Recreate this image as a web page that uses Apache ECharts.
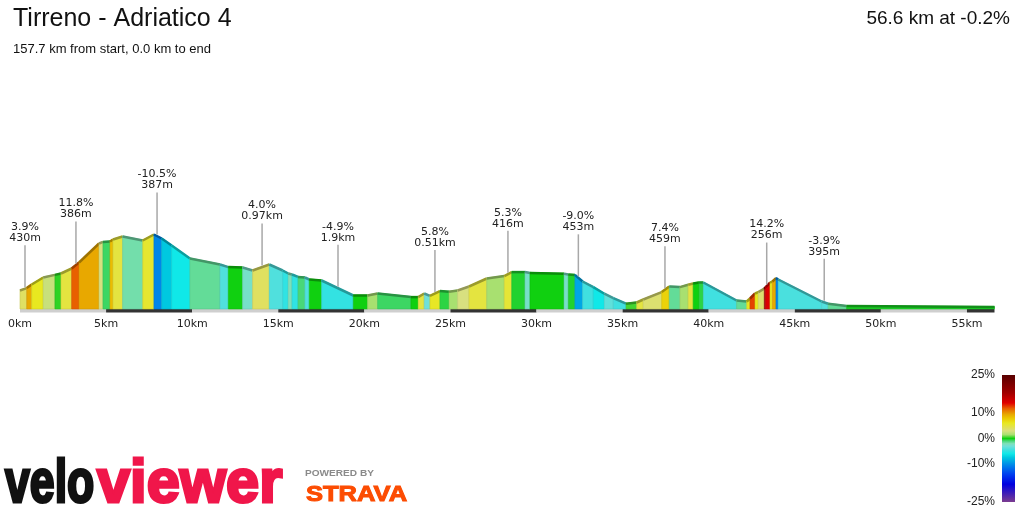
<!DOCTYPE html>
<html>
<head>
<meta charset="utf-8">
<script src="https://cdn.jsdelivr.net/npm/echarts@6/dist/echarts.min.js"></script>
<style>
html, body { margin: 0; padding: 0; background: #fff; }
#chart { width: 1024px; height: 512px; }
</style>
</head>
<body>
<div id="chart"></div>
<script>
// profile points: distance (km) and elevation (m)
const distKm = [0, 0.39, 0.68, 1.35, 2.03, 2.38, 3.00, 3.43, 4.59, 4.82, 5.23, 5.40, 5.96, 7.13, 7.78, 8.23, 8.81, 9.87, 11.62, 12.10,
  12.93, 13.51, 14.48, 15.26, 15.58, 15.80, 16.15, 16.55, 16.80, 17.52, 19.36, 20.19, 20.77, 22.71, 23.13, 23.48, 23.81, 24.39, 24.92, 25.42,
  26.08, 27.11, 28.13, 28.56, 29.33, 29.62, 31.60, 31.85, 32.23, 32.68, 33.30, 33.94, 34.46, 35.20, 35.82, 36.20, 37.27, 37.71, 38.33, 38.81,
  39.10, 39.44, 39.69, 41.62, 42.21, 42.40, 42.69, 42.88, 43.23, 43.31, 43.56, 43.70, 43.91, 44.04, 46.56, 46.94, 48.01, 56.6];
const elevM = [95, 107, 125, 160, 173, 180, 205, 235, 330, 338, 340, 350, 365, 345, 375, 355, 320, 255, 225, 212,
  210, 195, 225, 195, 180, 175, 163, 160, 150, 145, 70, 70, 80, 62, 62, 80, 68, 92, 89, 95,
  115, 155, 167, 187, 187, 183, 179, 175, 173, 140, 112, 79, 57, 29, 35, 50, 87, 115, 112, 124,
  130, 135, 135, 45, 40, 55, 80, 87, 104, 112, 134, 140, 157, 150, 40, 29, 17, 12];
// gradient (%) of each segment between two points
const segGrade = [3.9, 9.5, 6, 2.5, 0.3, 5, 11.8, 9.5, 3, -0.8, 8.5, 5, -1.8, 5.5, -10.5, -7.5, -6, -1.5, -4, 0,
  -2.5, 4, -4, -5, -2, -5, -1, -4, 0, -4.9, 0, 1.5, -0.8, 0, 5, -3, 5.8, -0.5, 1.5, 3,
  5, 1.5, 5.3, -0.3, -2.5, 0, -2.5, -0.3, -9, -4.5, -6, -3.5, -4.5, 0.5, 5, 3.5, 7.4, -1.5, 1.5, 5,
  0, -0.5, -4.5, -1.5, 6, 12.5, 6, 3.5, 18, 14.2, 6, 9.5, -10.5, -4.2, -3.9, -1.5, -0.2];

// labelled climbs and descents
const markKm = [0.29, 3.25, 7.96, 14.06, 18.47, 24.10, 28.34, 32.43, 37.46, 43.37, 46.71];
const markGrade = ['3.9%', '11.8%', '-10.5%', '4.0%', '-4.9%', '5.8%', '5.3%', '-9.0%', '7.4%', '14.2%', '-3.9%'];
const markLen = ['430m', '386m', '387m', '0.97km', '1.9km', '0.51km', '416m', '453m', '459m', '256m', '395m'];

// gradient colour scale
const scaleTicks = [25, 10, 0, -10, -25];
const stopG = [-25, -18, -14, -10, -7.5, -6, -4.5, -3, -2, -1, 0, 1.5, 3, 4, 6, 8, 9.5, 11.8, 14, 18, 25];
const stopC = ['#7c3c90', '#0000e0', '#0040f0', '#0090e8', '#00c8e0', '#10e8e8', '#40e0e0', '#70e0d8', '#7ee0b8', '#48d878', '#10d010',
  '#a8e070', '#d8e080', '#e0e060', '#e8e820', '#ecc800', '#e8a800', '#e86000', '#e00000', '#a00000', '#580000'];

const FONT = 'Liberation Sans, Arial, sans-serif';

function hexRgb(h) {
  const n = parseInt(h.slice(1), 16);
  return [n >> 16, (n >> 8) & 255, n & 255];
}
function rgbStr(c) { return 'rgb(' + c.map(v => Math.round(v)).join(',') + ')'; }

function gradeColor(g) {
  if (g <= stopG[0]) return stopC[0];
  for (let i = 1; i < stopG.length; i++) {
    if (g <= stopG[i]) {
      const t = (g - stopG[i - 1]) / (stopG[i] - stopG[i - 1]);
      const a = hexRgb(stopC[i - 1]), b = hexRgb(stopC[i]);
      return rgbStr(a.map((v, k) => v + (b[k] - v) * t));
    }
  }
  return stopC[stopC.length - 1];
}
function shade(col, f) {
  const m = col.match(/\d+/g).map(Number);
  return rgbStr(m.map(v => v * f));
}

function elevAt(km) {
  for (let i = 1; i < distKm.length; i++) {
    if (km <= distKm[i]) {
      const t = (km - distKm[i - 1]) / (distKm[i] - distKm[i - 1]);
      return elevM[i - 1] + (elevM[i] - elevM[i - 1]) * t;
    }
  }
  return elevM[elevM.length - 1];
}

const segData = segGrade.map((g, i) => [distKm[i], distKm[i + 1], elevM[i], elevM[i + 1], g]);
const markData = markKm.map((k, i) => [k, elevAt(k), i]);

const chart = echarts.init(document.getElementById('chart'));

// legend colour bar (top = 25%, bottom = -25%)
const barStops = stopG.map((g, i) => ({ offset: (25 - g) / 50, color: stopC[i] })).reverse();
const legendGraphics = [{
  type: 'rect', shape: { x: 1002, y: 375, width: 13, height: 127 },
  style: { fill: new echarts.graphic.LinearGradient(0, 0, 0, 1, barStops) }
}].concat(scaleTicks.map(t => ({
  type: 'text',
  style: { x: 995, y: 375 + (25 - t) / 50 * 127, text: t + '%', align: 'right', verticalAlign: 'middle', font: '12px ' + FONT, fill: '#222' }
})));

// logo texts
const logoGraphics = [
  { type: 'text', x: 5, y: 516, scaleX: 0.72, style: { x: 0, y: 0, text: 'velo', font: 'bold 62px ' + FONT, fill: '#111', stroke: '#111', lineWidth: 3, verticalAlign: 'bottom' } },
  { type: 'text', x: 97, y: 516, scaleX: 0.96, style: { x: 0, y: 0, text: 'viewer', font: 'bold 62px ' + FONT, fill: '#f0164a', stroke: '#f0164a', lineWidth: 3, verticalAlign: 'bottom' } },
  { type: 'text', x: 305, y: 474, scaleX: 1.12, style: { x: 0, y: 0, text: 'POWERED BY', font: 'bold 9px ' + FONT, fill: '#8a8a8a', verticalAlign: 'middle' } },
  { type: 'text', x: 306, y: 495, scaleX: 1.16, style: { x: 0, y: 0, text: 'STRAVA', font: 'bold 22px ' + FONT, fill: '#fc4c02', stroke: '#fc4c02', lineWidth: 1, verticalAlign: 'middle' } }
];

chart.setOption({
  animation: false,
  grid: [
    { left: 20, right: 29.5, top: 100, bottom: 203 },
    { left: 20, right: 29.5, top: 309, height: 3.5 }
  ],
  xAxis: [{
    type: 'value', min: 0, max: 56.6, interval: 5,
    axisLine: { show: false }, axisTick: { show: false }, splitLine: { show: false },
    axisLabel: { formatter: '{value}km', showMaxLabel: false, fontSize: 11, color: '#222', fontFamily: 'DejaVu Sans', margin: 10 }
  }, {
    type: 'value', gridIndex: 1, min: 0, max: 56.6, interval: 5,
    axisLine: { show: false }, axisTick: { show: false }, splitLine: { show: false }, axisLabel: { show: false },
    splitArea: { show: true, areaStyle: { color: ['#cfcfcf', '#333333'] } }
  }],
  yAxis: [
    { type: 'value', min: 0, max: 1045, show: false },
    { type: 'value', gridIndex: 1, min: 0, max: 1, show: false }
  ],
  series: [{
    type: 'custom',
    data: segData,
    encode: { x: [0, 1], y: [2, 3] },
    renderItem(params, api) {
      const x0 = api.value(0), x1 = api.value(1), e0 = api.value(2), e1 = api.value(3);
      const col = gradeColor(api.value(4));
      const a = api.coord([x0, 0]), b = api.coord([x0, e0]), c = api.coord([x1, e1]), d = api.coord([x1, 0]);
      return {
        type: 'group', children: [
          { type: 'polygon', shape: { points: [a, b, c, d] }, style: { fill: col, stroke: shade(col, 0.9), lineWidth: 0.6 } },
          { type: 'line', shape: { x1: b[0], y1: b[1] + 0.5, x2: c[0], y2: c[1] + 0.5 }, style: { stroke: shade(col, 0.68), lineWidth: 2.5 } }
        ]
      };
    }
  }, {
    type: 'custom',
    data: markData,
    encode: { x: 0, y: 1 },
    z: 5,
    renderItem(params, api) {
      const p = api.coord([api.value(0), api.value(1)]);
      const i = api.value(2);
      const txt = { align: 'center', verticalAlign: 'middle', font: '11px DejaVu Sans', fill: '#222' };
      return {
        type: 'group', children: [
          { type: 'line', shape: { x1: p[0], y1: p[1] - 1, x2: p[0], y2: p[1] - 43 }, style: { stroke: '#a8a8a8', lineWidth: 1.5 } },
          { type: 'text', style: Object.assign({ x: p[0], y: p[1] - 61, text: markGrade[i] }, txt) },
          { type: 'text', style: Object.assign({ x: p[0], y: p[1] - 50, text: markLen[i] }, txt) }
        ]
      };
    }
  }, {
    type: 'custom', xAxisIndex: 1, yAxisIndex: 1, data: [], renderItem() { return null; }
  }],
  graphic: [
    { type: 'text', style: { x: 13, y: 19, text: 'Tirreno - Adriatico 4', font: '25px ' + FONT, fill: '#111', verticalAlign: 'middle' } },
    { type: 'text', style: { x: 13, y: 49, text: '157.7 km from start, 0.0 km to end', font: '13px ' + FONT, fill: '#111', verticalAlign: 'middle' } },
    { type: 'text', style: { x: 1010, y: 19, text: '56.6 km at -0.2%', font: '19px ' + FONT, fill: '#111', align: 'right', verticalAlign: 'middle' } }
  ].concat(logoGraphics, legendGraphics)
});
</script>
</body>
</html>
